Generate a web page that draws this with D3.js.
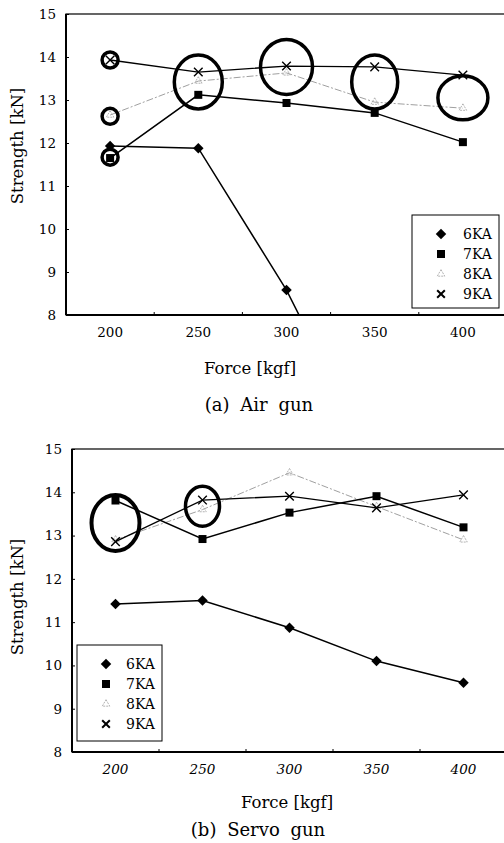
<!DOCTYPE html>
<html><head><meta charset="utf-8">
<script src="https://cdn.jsdelivr.net/npm/d3@7"></script>
<style>body{margin:0;background:#fff}svg{display:block}</style>
</head><body><svg id="c" width="504" height="843"></svg>
<script>
// ---- data ----
const forces = ["200","250","300","350","400"];
const yTicks = [8,9,10,11,12,13,14,15];
const seriesNames = ["6KA","7KA","8KA","9KA"];
const airGun6KA = [11.93, 11.88, 8.58, 4.5, null];
const airGun7KA = [11.65, 13.12, 12.93, 12.7, 12.02];
const airGun8KA = [12.65, 13.44, 13.63, 12.95, 12.81];
const airGun9KA = [13.93, 13.65, 13.79, 13.77, 13.58];
const servoGun6KA = [11.42, 11.5, 10.87, 10.1, 9.6];
const servoGun7KA = [13.81, 12.92, 13.53, 13.91, 13.19];
const servoGun8KA = [12.9, 13.6, 14.45, 13.67, 12.9];
const servoGun9KA = [12.86, 13.82, 13.91, 13.64, 13.94];
// highlighted points (category, value)
const airGunHighlights = [["200",13.93],["200",12.62],["200",11.67],["250",13.42],["300",13.77],["350",13.42],["400",13.05]];
const servoGunHighlights = [["200",13.29],["250",13.68]];

// ---- drawing ----
const svg = d3.select("#c");
const serif = "'DejaVu Serif','Liberation Serif',serif";
const styles = {
  "6KA": {stroke:"#000", width:1.5, dash:null},
  "7KA": {stroke:"#000", width:1.5, dash:null},
  "8KA": {stroke:"#a0a0a0", width:1, dash:"7,2,2,2"},
  "9KA": {stroke:"#000", width:1.3, dash:null}
};

function marker(g, name, x, y, big) {
  if (name === "6KA") {
    g.append("path").attr("d", d3.symbol(d3.symbolDiamond2, 70)()).attr("transform",`translate(${x},${y})`).attr("fill","#000");
  } else if (name === "7KA") {
    g.append("path").attr("d", d3.symbol(d3.symbolSquare, 64)()).attr("transform",`translate(${x},${y})`).attr("fill","#000");
  } else if (name === "8KA") {
    g.append("path").attr("d", d3.symbol(d3.symbolTriangle2, 40)()).attr("transform",`translate(${x},${y})`)
      .attr("fill","none").attr("stroke","#aaa").attr("stroke-width",0.9).attr("stroke-dasharray","2,1");
  } else {
    g.append("path").attr("d", d3.symbol(d3.symbolX, big ? 40 : 50)()).attr("transform",`translate(${x},${y})`)
      .attr("fill","none").attr("stroke","#000").attr("stroke-width", big ? 2 : 1.4);
  }
}

function panel(cfg) {
  const x = d3.scaleBand().domain(forces).range(cfg.xr).paddingInner(0).paddingOuter(0);
  const y = d3.scaleLinear().domain([8,15]).range(cfg.yr);
  const cx = c => x(c) + x.bandwidth()/2;
  const g = svg.append("g");
  const id = "clip" + cfg.key;
  svg.append("clipPath").attr("id", id).append("rect")
    .attr("x", cfg.xr[0]).attr("y", cfg.yr[1]).attr("width", cfg.xr[1]-cfg.xr[0]).attr("height", cfg.yr[0]-cfg.yr[1]);

  // frame
  g.append("rect").attr("x", cfg.xr[0]).attr("y", cfg.yr[1]).attr("width", cfg.xr[1]-cfg.xr[0]).attr("height", cfg.yr[0]-cfg.yr[1])
    .attr("fill","none").attr("stroke","#000").attr("stroke-width",1.2);
  g.append("line").attr("x1",cfg.xr[0]).attr("x2",cfg.xr[0]).attr("y1",cfg.yr[0]).attr("y2",cfg.yr[1]).attr("stroke","#000").attr("stroke-width",2);
  g.append("line").attr("x1",cfg.xr[0]).attr("x2",cfg.xr[1]).attr("y1",cfg.yr[0]).attr("y2",cfg.yr[0]).attr("stroke","#000").attr("stroke-width",2);

  // y axis
  const ya = g.append("g").attr("transform",`translate(${cfg.xr[0]},0)`)
    .call(d3.axisLeft(y).tickValues(yTicks).tickSize(-3).tickPadding(10).tickFormat(d3.format("d")));
  ya.select(".domain").remove();
  ya.selectAll("text").attr("font-family", serif).attr("font-size", 13.5).attr("fill","#000");
  // x axis
  const xa = g.append("g").attr("transform",`translate(0,${cfg.yr[0]})`)
    .call(d3.axisBottom(x).tickSize(0).tickPadding(12));
  xa.select(".domain").remove();
  xa.selectAll("text").attr("font-family", serif).attr("font-size", 13.5).attr("fill","#000")
    .attr("font-style", cfg.italicX ? "italic" : "normal");
  // boundary ticks
  g.append("g").selectAll("line").data(forces.slice(1)).join("line")
    .attr("x1", d => x(d)).attr("x2", d => x(d)).attr("y1", cfg.yr[0]).attr("y2", cfg.yr[0]-3)
    .attr("stroke","#000").attr("stroke-width",1);

  // series
  const line = d3.line().defined(d => d.v !== null).x(d => cx(d.c)).y(d => y(d.v));
  const plot = g.append("g").attr("clip-path", `url(#${id})`);
  const order = ["8KA","6KA","7KA","9KA"];
  order.forEach(name => {
    const vals = cfg.series[name];
    const pts = forces.map((c,i) => ({c, v: vals[i]}));
    const s = styles[name];
    plot.append("path").datum(pts).attr("d", line).attr("fill","none")
      .attr("stroke", s.stroke).attr("stroke-width", s.width).attr("stroke-dasharray", s.dash);
    pts.filter(p => p.v !== null && p.v >= 8).forEach(p => marker(plot, name, cx(p.c), y(p.v), false));
  });

  // highlight ellipses
  g.append("g").selectAll("ellipse").data(cfg.highlights).join("ellipse")
    .attr("cx", d => cx(d[0])).attr("cy", d => y(d[1]))
    .attr("rx", (d,i) => cfg.hr[i][0]).attr("ry", (d,i) => cfg.hr[i][1])
    .attr("fill","none").attr("stroke","#000").attr("stroke-width", (d,i) => cfg.hr[i][2]);

  // legend
  const L = cfg.legend;
  const lg = g.append("g");
  lg.append("rect").attr("x",L.x).attr("y",L.y).attr("width",L.w).attr("height",L.h)
    .attr("fill","#fff").attr("stroke","#000").attr("stroke-width",1);
  seriesNames.forEach((n,i) => {
    const yy = L.y + 19 + i*20;
    marker(lg, n, L.x + L.sx, yy, true);
    lg.append("text").attr("x", L.x + L.tx).attr("y", yy + 5).text(n)
      .attr("font-family", serif).attr("font-size", 14).attr("fill","#000");
  });

  // titles
  svg.append("text").attr("transform",`translate(${cfg.ytitle[0]},${cfg.ytitle[1]}) rotate(-90)`)
    .attr("text-anchor","middle").attr("font-family", serif).attr("font-size", 16.5).text("Strength [kN]");
  svg.append("text").attr("x", cfg.xtitle[0]).attr("y", cfg.xtitle[1]).attr("text-anchor","middle")
    .attr("font-family", serif).attr("font-size", 16.5).text("Force [kgf]");
  svg.append("text").attr("x", cfg.caption[0]).attr("y", cfg.caption[1]).attr("text-anchor","middle")
    .attr("font-family", serif).attr("font-size", 18).attr("word-spacing", 5).text(cfg.captionText);
}

panel({
  key: "a", xr: [66, 507], yr: [315, 14], italicX: false,
  series: {"6KA": airGun6KA, "7KA": airGun7KA, "8KA": airGun8KA, "9KA": airGun9KA},
  highlights: airGunHighlights,
  hr: [[8,8,3.5],[8,8,3.5],[8,8,3.5],[24,27,3.5],[26,27.5,3.5],[23,27,3.5],[25,22,3.5]],
  legend: {x: 412, y: 215, w: 87, h: 93, sx: 29, tx: 51},
  ytitle: [23, 146], xtitle: [250, 374], caption: [259, 411], captionText: "(a) Air gun"
});
panel({
  key: "b", xr: [72, 507], yr: [752, 449], italicX: true,
  series: {"6KA": servoGun6KA, "7KA": servoGun7KA, "8KA": servoGun8KA, "9KA": servoGun9KA},
  highlights: servoGunHighlights,
  hr: [[24,28,4],[17,20,3.5]],
  legend: {x: 77, y: 645, w: 85, h: 96, sx: 29, tx: 49},
  ytitle: [23, 597], xtitle: [287, 808], caption: [258, 836], captionText: "(b) Servo gun"
});
</script>
</body></html>
